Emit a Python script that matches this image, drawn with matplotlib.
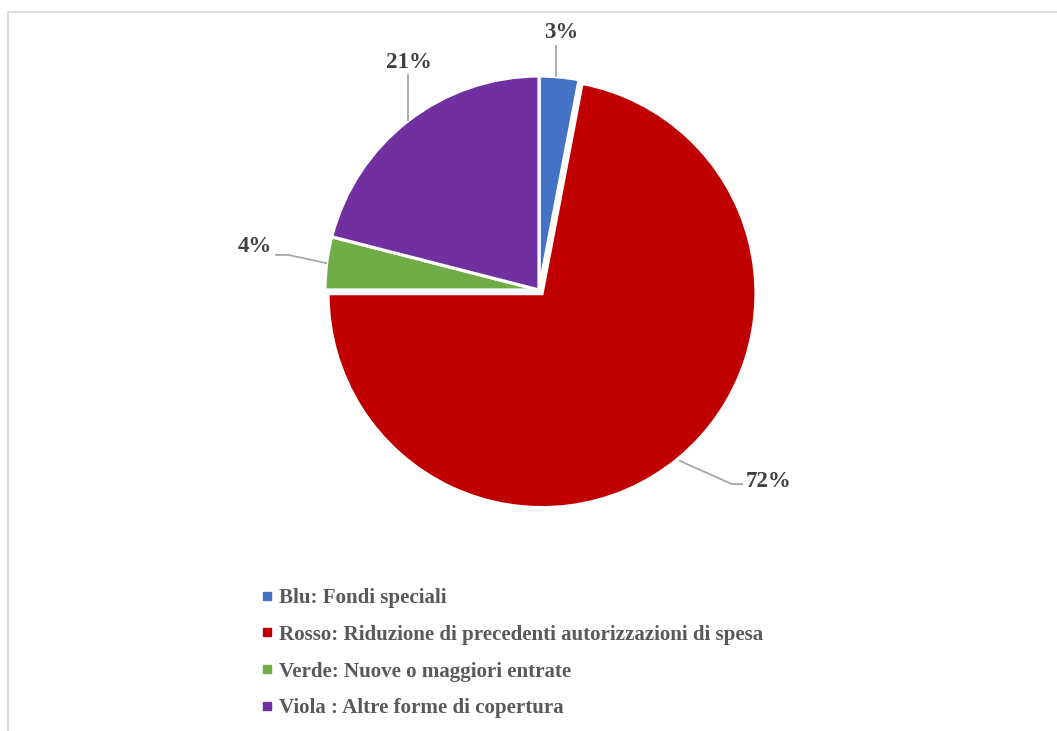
import matplotlib

matplotlib.use("Agg")
import matplotlib.pyplot as plt
from matplotlib.lines import Line2D
from matplotlib.patches import Rectangle

labels = [
    "Blu: Fondi speciali",
    "Rosso: Riduzione di precedenti autorizzazioni di spesa",
    "Verde: Nuove o maggiori entrate",
    "Viola : Altre forme di copertura",
]
shares = [3, 72, 4, 21]
colors = ["#4472C4", "#C00000", "#70AD47", "#7030A0"]
explode = [0, 0.022, 0, 0]

W, H = 1057, 731
fig = plt.figure(figsize=(W / 100, H / 100), dpi=100)

# light gray chart frame (right and bottom edges fall outside the picture)
fig.add_artist(Rectangle((8 / W, -0.05), 1.1, 1 - 12 / H + 0.05,
                         transform=fig.transFigure, fill=False,
                         edgecolor="#D9D9D9", linewidth=1.3))

cx, cy, r = 539, 290, 214
ax = fig.add_axes([(cx - r) / W, 1 - (cy + r) / H, 2 * r / W, 2 * r / H])
ax.pie(shares, colors=colors, startangle=90, counterclock=False,
       explode=explode, radius=1,
       wedgeprops=dict(edgecolor="white", linewidth=2.3))
ax.set_xlim(-1, 1)
ax.set_ylim(-1, 1)
ax.set_aspect("equal")
ax.axis("off")

# data labels with leader lines
label_font = dict(family="Liberation Serif", weight="bold", size=16.5,
                  color="#404040", ha="center", va="center")
leaders = [
    ([0.079, 0.079], [1.0, 1.14]),
    ([0.659, 0.902, 0.949], [-0.799, -0.907, -0.907]),
    ([-0.995, -1.173, -1.229], [0.126, 0.164, 0.164]),
    ([-0.612, -0.612], [0.794, 1.005]),
]
label_pos = [(0.103, 1.201), (1.075, -0.893), (-1.327, 0.201), (-0.607, 1.065)]
for share, (lx, ly), (tx, ty) in zip(shares, leaders, label_pos):
    ax.plot(lx, ly, color="#A6A6A6", linewidth=1.3, clip_on=False)
    ax.text(tx, ty, f"{share}%", clip_on=False, **label_font)

handles = [Line2D([], [], linestyle="none", marker="s", markersize=5.5,
                  markerfacecolor=c, markeredgecolor=c) for c in colors]
leg = fig.legend(handles, labels, loc="upper left",
                 bbox_to_anchor=(262 / W, 1 - 588 / H), frameon=False,
                 handlelength=0.5, handletextpad=0.3, labelspacing=0.8,
                 borderaxespad=0, borderpad=0,
                 prop=dict(family="Liberation Serif", weight="bold", size=15.1))
for t in leg.get_texts():
    t.set_color("#595959")

fig.savefig("out.png", dpi=100)
